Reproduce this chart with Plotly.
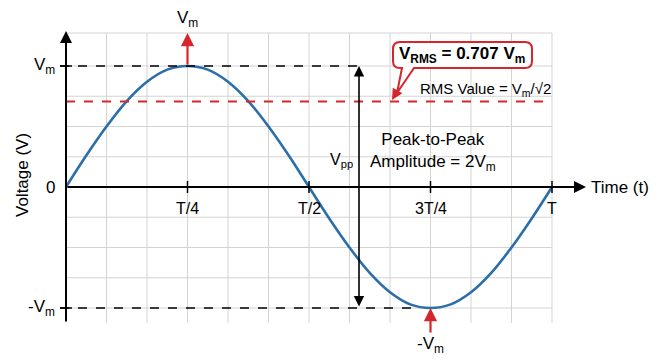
import plotly.graph_objects as go

# ---- data (time in units of T, voltage in units of Vm) ----
t_samples = [0, 1/24, 2/24, 3/24, 4/24, 5/24, 6/24, 7/24, 8/24, 9/24, 10/24, 11/24, 12/24,
             13/24, 14/24, 15/24, 16/24, 17/24, 18/24, 19/24, 20/24, 21/24, 22/24, 23/24, 1]
v_samples = [0, 0.26, 0.5, 0.71, 0.87, 0.97, 1.0, 0.97, 0.87, 0.71, 0.5, 0.26, 0,
             -0.26, -0.5, -0.71, -0.87, -0.97, -1.0, -0.97, -0.87, -0.71, -0.5, -0.26, 0]
x_tick_vals = [0.25, 0.5, 0.75, 1.0]
x_tick_text = ["T/4", "T/2", "3T/4", "T"]
vm_level = 1.0
rms_level = 0.707
neg_vm_level = -1.0

# ---- pixel (window) -> data helpers, for decoration placement ----
X0, XS = 66, 486.0
Y0, YS = 187, 121.0
def px_x(p):
    return (p - X0) / XS
def px_y(p):
    return (Y0 - p) / YS

FONT = "Liberation Sans, Arial, sans-serif"
BLUE = "#2b6ea8"
RED = "#d7262b"
GRID = "#d3d3d3"

fig = go.Figure()

shapes = []
grid_top, grid_bot = px_y(33), px_y(323)
for k in range(1, 13):
    shapes.append(dict(type="line", x0=k/12, x1=k/12, y0=grid_bot, y1=grid_top,
                       line=dict(color=GRID, width=1), layer="below"))
for k in range(-4, 5):
    shapes.append(dict(type="line", x0=0, x1=1, y0=k/4, y1=k/4,
                       line=dict(color=GRID, width=1), layer="below"))
shapes.append(dict(type="line", x0=0, x1=1, y0=grid_top, y1=grid_top,
                   line=dict(color=GRID, width=1), layer="below"))

# dashed reference lines
shapes.append(dict(type="line", x0=px_x(60), x1=px_x(358), y0=vm_level, y1=vm_level,
                   line=dict(color="black", width=1.5, dash="dash")))
shapes.append(dict(type="line", x0=px_x(60), x1=px_x(414), y0=neg_vm_level, y1=neg_vm_level,
                   line=dict(color="black", width=1.5, dash="dash")))
shapes.append(dict(type="line", x0=0, x1=1, y0=rms_level, y1=rms_level,
                   line=dict(color=RED, width=2, dash="dash")))

# tick marks
for tv in x_tick_vals:
    shapes.append(dict(type="line", x0=tv, x1=tv, y0=px_y(181), y1=px_y(193),
                       line=dict(color="black", width=1.5)))
for lv in [vm_level, neg_vm_level]:
    shapes.append(dict(type="line", x0=px_x(60), x1=px_x(72), y0=lv, y1=lv,
                       line=dict(color="black", width=1.5)))

# callout box with tail (rounded rect)
L, R, T, B, r = 393, 532, 42, 68, 7
def P(x, y):
    return f"{px_x(x):.5f},{px_y(y):.5f}"
path = (f"M {P(L+r, T)} L {P(R-r, T)} Q {P(R, T)} {P(R, T+r)} "
        f"L {P(R, B-r)} Q {P(R, B)} {P(R-r, B)} "
        f"L {P(414, B)} L {P(397, 93)} L {P(402, B)} "
        f"L {P(L+r, B)} Q {P(L, B)} {P(L, B-r)} "
        f"L {P(L, T+r)} Q {P(L, T)} {P(L+r, T)} Z")
shapes.append(dict(type="path", path=path, fillcolor="white",
                   line=dict(color=RED, width=2)))

# sine wave
fig.add_trace(go.Scatter(x=t_samples, y=v_samples, mode="lines", line_shape="spline",
                         line=dict(color=BLUE, width=2.6), hoverinfo="skip"))

ann = []
def arrow(x0, y0, x1, y1, color="black", width=2, side="end", size=1.0):
    ann.append(dict(x=x1, y=y1, ax=x0, ay=y0, xref="x", yref="y", axref="x", ayref="y",
                    showarrow=True, arrowhead=2, arrowsize=size, arrowwidth=width,
                    arrowcolor=color, arrowside=side, text="", standoff=0, startstandoff=0))

arrow(0, px_y(323), 0, px_y(31), width=2, size=1.2)
arrow(0, 0, px_x(586), 0, width=2, size=1.2)
arrow(px_x(359), neg_vm_level, px_x(359), vm_level, width=1.6, side="end+start", size=1.3)
arrow(0.25, vm_level, 0.25, px_y(33), color=RED, width=2.2, size=1.2)
arrow(0.75, px_y(334), 0.75, neg_vm_level, color=RED, width=2.2, size=1.2)
arrow(px_x(399), px_y(88), px_x(392), px_y(100), color=RED, width=2, size=1.1)

def text(x, y, s, size=16, xanchor="center", yanchor="middle", color="black", angle=0):
    ann.append(dict(x=x, y=y, xref="x", yref="y", text=s, showarrow=False,
                    xanchor=xanchor, yanchor=yanchor, textangle=angle,
                    font=dict(family=FONT, size=size, color=color)))

text(px_x(57), vm_level, "V<sub>m</sub>", size=17, xanchor="right")
text(px_x(57), 0, "0", size=17, xanchor="right")
text(px_x(57), neg_vm_level, "-V<sub>m</sub>", size=17, xanchor="right")
text(px_x(22), px_y(175), "Voltage (V)", size=17, angle=-90)
for tv, tl in zip(x_tick_vals, x_tick_text):
    text(tv, px_y(208), tl, size=16)
text(px_x(589), 0, "Time (t)", size=17, xanchor="left")
text(0.25, px_y(19), "V<sub>m</sub>", size=17)
text(0.75, px_y(345), "-V<sub>m</sub>", size=17)
text(px_x(355), px_y(160), "V<sub>pp</sub>", size=16, xanchor="right")
text(px_x(433), px_y(152), "Peak-to-Peak<br>Amplitude = 2V<sub>m</sub>", size=17)
text(px_x(553), px_y(89), "RMS Value = V<sub>m</sub>/√2", size=15, xanchor="right")
text(px_x(462), px_y(55), "<b>V<sub>RMS</sub> = 0.707 V<sub>m</sub></b>", size=17)

# page body has an 8px default margin: figure occupies window pixels 8..660 x 8..360
fig.update_layout(
    width=652, height=352,
    margin=dict(l=0, r=0, t=0, b=0),
    paper_bgcolor="white", plot_bgcolor="white",
    showlegend=False,
    shapes=shapes, annotations=ann,
    xaxis=dict(range=[px_x(8), px_x(660)], visible=False, fixedrange=True),
    yaxis=dict(range=[px_y(360), px_y(8)], visible=False, fixedrange=True),
)

fig.write_html("out.html")
